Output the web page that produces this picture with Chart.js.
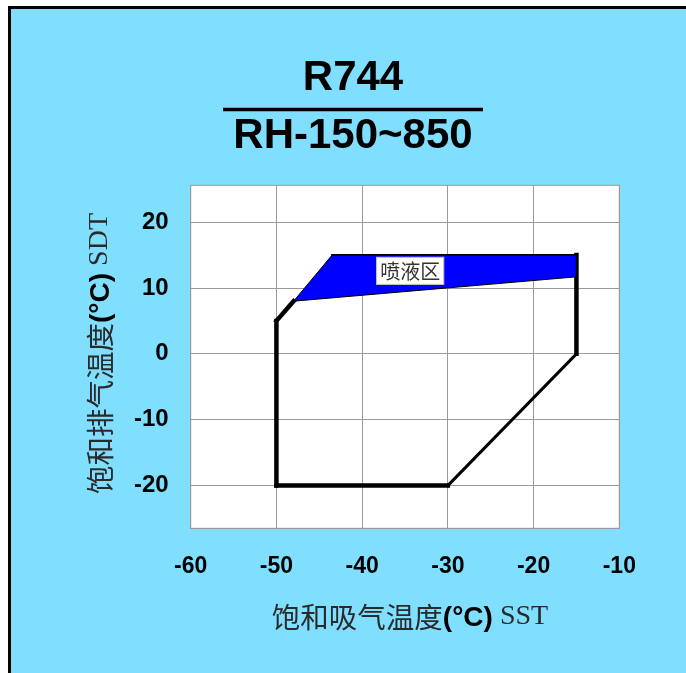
<!DOCTYPE html>
<html>
<head>
<meta charset="utf-8">
<script src="https://cdn.jsdelivr.net/npm/chart.js@4.4.1/dist/chart.umd.min.js"></script>
<style>
    html, body { margin: 0; padding: 0; background: #ffffff; }
    #frame {
        position: absolute;
        left: 8px;
        top: 6px;
        width: 675px;
        height: 664px;
        border-left: 3px solid #000;
        border-top: 3px solid #000;
        background: #80dfff;
    }
    #chart { display: block; }
</style>
</head>
<body>
<div id="frame">
    <canvas id="chart" width="675" height="664"></canvas>
</div>
<script>
// Chart data
const titleLines = ['R744', 'RH-150~850'];
const xTicks = [-60, -50, -40, -30, -20, -10];
const yTicks = [-20, -10, 0, 10, 20];
const yRange = [-26.5, 25.6];

// operating envelope outline, walked clockwise from the top-left corner
const envelopeX = [-43.5, -15, -15, -30, -50, -50, -48];
const envelopeY = [15, 15, 0, -20, -20, 5, 8];

// liquid injection zone (blue)
const sprayX = [-48, -43.5, -15, -15, -48];
const sprayY = [8, 15, 15, 11.7, 8];
const sprayLabel = '喷液区';
const sprayLabelPos = [-34.4, 12.6];

const yTitle = ['饱和排气温度', '(°C)', ' SDT'];
const xTitle = ['饱和吸气温度', '(°C)', ' SST'];

// Styles
const CJK_FONT = '28.5px "Noto Sans CJK SC"';
const UNIT_FONT = 'bold 28px "Liberation Sans"';
const LATIN_FONT = '28px "Liberation Serif"';
const GRID = '#9a9a9a';
const SEGMENT_WIDTHS = [2, 4.5, 3, 4.5, 4.5, 4.5];

const toPoints = (xs, ys) => xs.map((x, i) => ({ x: x, y: ys[i] }));

function buildDatasets() {
    const sets = [{
        label: 'spray',
        data: toPoints(sprayX, sprayY),
        showLine: true,
        fill: 'shape',
        backgroundColor: '#0000ff',
        borderColor: '#000',
        borderWidth: 1,
        pointRadius: 0
    }];
    const pts = toPoints(envelopeX, envelopeY);
    for (let i = 0; i < pts.length - 1; i++) {
        sets.push({
            label: 'edge' + i,
            data: [pts[i], pts[i + 1]],
            showLine: true,
            fill: false,
            borderColor: '#000',
            borderWidth: SEGMENT_WIDTHS[i],
            borderCapStyle: 'square',
            pointRadius: 0
        });
    }
    return sets;
}

// draws a run of text pieces with different fonts, centered on (0,0)
function drawRuns(ctx, runs) {
    const fonts = [CJK_FONT, UNIT_FONT, LATIN_FONT];
    const colors = ['#2a2a2a', '#000', '#2a2a2a'];
    let total = 0;
    const widths = runs.map((t, i) => {
        ctx.font = fonts[i];
        const w = ctx.measureText(t).width;
        total += w;
        return w;
    });
    let x = -total / 2;
    ctx.textBaseline = 'middle';
    ctx.textAlign = 'left';
    runs.forEach((t, i) => {
        ctx.font = fonts[i];
        ctx.fillStyle = colors[i];
        ctx.fillText(t, x, i === 1 ? 1 : 0);
        x += widths[i];
    });
}

const decorPlugin = {
    id: 'decor',
    beforeDraw(chart) {
        const { ctx, chartArea: a } = chart;
        ctx.save();
        ctx.fillStyle = '#ffffff';
        ctx.fillRect(a.left, a.top, a.right - a.left, a.bottom - a.top);
        ctx.restore();
    },
    afterDraw(chart) {
        const { ctx, chartArea: a, scales } = chart;
        ctx.save();

        // plot frame
        ctx.strokeStyle = GRID;
        ctx.lineWidth = 1;
        ctx.strokeRect(a.left, a.top, a.right - a.left, a.bottom - a.top);

        // rule between the two title lines
        ctx.strokeStyle = '#000';
        ctx.lineWidth = 3.5;
        ctx.beginPath();
        ctx.moveTo(212, 100.5);
        ctx.lineTo(472, 100.5);
        ctx.stroke();

        // zone label
        const lx = scales.x.getPixelForValue(sprayLabelPos[0]);
        const ly = scales.y.getPixelForValue(sprayLabelPos[1]);
        ctx.fillStyle = '#ffffff';
        ctx.fillRect(lx - 34, ly - 14, 68, 28);
        ctx.strokeStyle = '#bbbbbb';
        ctx.lineWidth = 1;
        ctx.strokeRect(lx - 33.5, ly - 13.5, 67, 27);
        ctx.font = '20px "Noto Sans CJK SC"';
        ctx.fillStyle = '#333';
        ctx.textAlign = 'center';
        ctx.textBaseline = 'middle';
        ctx.fillText(sprayLabel, lx, ly + 1);

        // axis titles
        ctx.save();
        ctx.translate(399, 608);
        drawRuns(ctx, xTitle);
        ctx.restore();

        ctx.save();
        ctx.translate(89, 344.5);
        ctx.rotate(-Math.PI / 2);
        drawRuns(ctx, yTitle);
        ctx.restore();

        ctx.restore();
    }
};

new Chart(document.getElementById('chart').getContext('2d'), {
    type: 'scatter',
    data: { datasets: buildDatasets() },
    options: {
        responsive: false,
        animation: false,
        layout: { padding: { left: 75.7, right: 66.7, top: 0, bottom: 0 } },
        scales: {
            x: {
                min: xTicks[0],
                max: xTicks[xTicks.length - 1],
                afterBuildTicks: s => { s.ticks = xTicks.map(v => ({ value: v })); },
                afterFit: s => { s.height = 144.7; },
                grid: { color: GRID, drawTicks: false },
                border: { color: GRID },
                ticks: {
                    padding: 25,
                    color: '#000',
                    font: { family: 'Liberation Sans', size: 23, weight: 'bold' },
                    callback: v => String(v)
                }
            },
            y: {
                min: yRange[0],
                max: yRange[1],
                afterBuildTicks: s => { s.ticks = yTicks.map(v => ({ value: v })); },
                afterFit: s => { s.width = 104; },
                grid: { color: GRID, drawTicks: false },
                border: { color: GRID },
                ticks: {
                    padding: 22,
                    color: '#000',
                    font: { family: 'Liberation Sans', size: 24, weight: 'bold' },
                    callback: v => String(v)
                }
            }
        },
        plugins: {
            legend: { display: false },
            tooltip: { enabled: false },
            title: {
                display: true,
                text: titleLines,
                color: '#000',
                font: { family: 'Liberation Sans', size: 42, weight: 'bold', lineHeight: 1.381 },
                padding: { top: 40, bottom: 20.3 }
            }
        }
    },
    plugins: [decorPlugin]
});
</script>
</body>
</html>
